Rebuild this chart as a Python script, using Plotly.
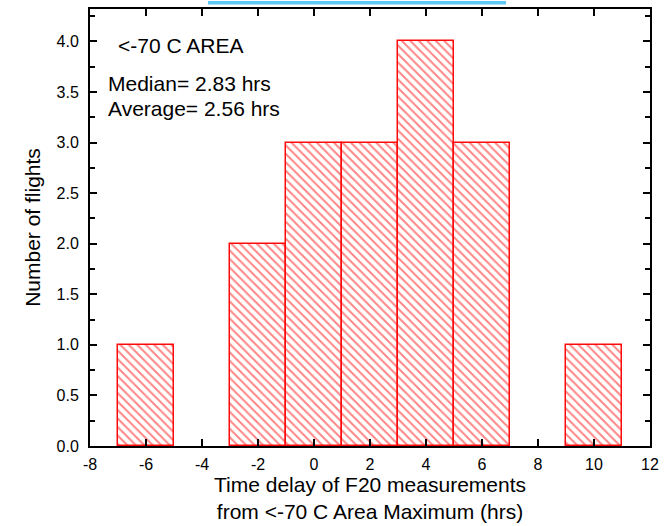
import plotly.graph_objects as go

# Data
bin_centers = [-6, -2, 0, 2, 4, 6, 10]
counts = [1, 2, 3, 3, 4, 3, 1]
bin_width = 2
x_ticks = [-8, -6, -4, -2, 0, 2, 4, 6, 8, 10, 12]
y_ticks = [0.0, 0.5, 1.0, 1.5, 2.0, 2.5, 3.0, 3.5, 4.0]
y_minor_ticks = [0.25, 0.75, 1.25, 1.75, 2.25, 2.75, 3.25, 3.75, 4.25]
label_title = "<-70 C AREA"
label_median = "Median= 2.83 hrs"
label_average = "Average= 2.56 hrs"

FONT = "Liberation Sans, Arial, sans-serif"
RED = "#ff0a0a"

fig = go.Figure()
fig.add_trace(go.Bar(
    x=bin_centers,
    y=counts,
    width=[bin_width] * len(bin_centers),
    marker=dict(
        color="rgba(0,0,0,0)",
        line=dict(color=RED, width=1.5),
        pattern=dict(shape="\\", fgcolor=RED, bgcolor="white", size=6, solidity=0.33),
    ),
    showlegend=False,
))

fig.update_layout(
    width=672, height=526,
    margin=dict(l=90, r=22, t=7, b=78),
    paper_bgcolor="white", plot_bgcolor="white",
    font=dict(family=FONT, color="black"),
    bargap=0,
    xaxis=dict(
        range=[-8, 12], tickvals=x_ticks, ticktext=[str(v) for v in x_ticks],
        ticks="inside", ticklen=7, tickwidth=1.5, tickcolor="black",
        showline=True, linecolor="black", linewidth=2, mirror="ticks",
        showgrid=False, zeroline=False,
        tickfont=dict(size=16, family=FONT), ticklabelstandoff=3,
        title=dict(text="Time delay of F20 measurements<br>from <-70 C Area Maximum (hrs)",
                   font=dict(size=21, family=FONT), standoff=4),
    ),
    yaxis=dict(
        range=[0, 4.32], tickvals=y_ticks, ticktext=[f"{v:.1f}" for v in y_ticks],
        ticks="inside", ticklen=7, tickwidth=1.5, tickcolor="black",
        minor=dict(tickvals=y_minor_ticks,
                   ticks="inside", ticklen=5, tickwidth=1.5, tickcolor="black"),
        showline=True, linecolor="black", linewidth=2, mirror="ticks",
        showgrid=False, zeroline=False,
        tickfont=dict(size=16, family=FONT), ticklabelstandoff=6,
        title=dict(text="Number of flights", font=dict(size=21, family=FONT), standoff=10),
    ),
    annotations=[
        dict(text=label_title, xref="paper", yref="paper", x=(116 - 90) / 560, y=(448 - 44) / 441,
             xanchor="left", yanchor="middle", showarrow=False, font=dict(size=21, family=FONT)),
        dict(text=label_median, xref="paper", yref="paper", x=(106 - 90) / 560, y=(448 - 82) / 441,
             xanchor="left", yanchor="middle", showarrow=False, font=dict(size=21, family=FONT)),
        dict(text=label_average, xref="paper", yref="paper", x=(106 - 90) / 560, y=(448 - 107) / 441,
             xanchor="left", yanchor="middle", showarrow=False, font=dict(size=21, family=FONT)),
    ],
    shapes=[
        dict(type="rect", xref="paper", yref="paper",
             x0=(208 - 90) / 560, x1=(506 - 90) / 560,
             y0=1 + 4.5 / 441, y1=1 + 8 / 441,
             fillcolor="#5bc8f5", line=dict(width=0)),
    ],
)

fig.write_html("out.html", config={"displayModeBar": False},
               post_script="document.body.style.margin='0';")
